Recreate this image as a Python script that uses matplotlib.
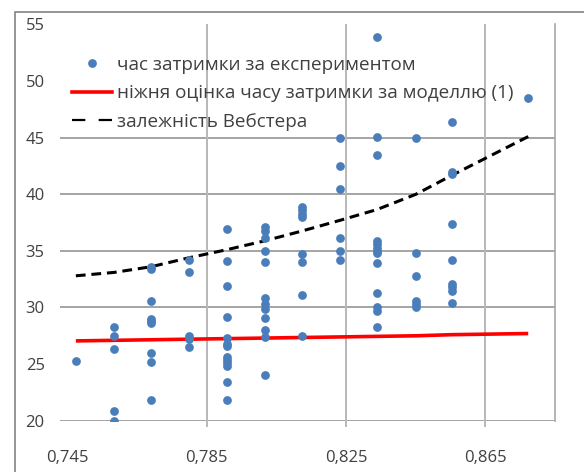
import matplotlib
matplotlib.use("Agg")
import matplotlib.pyplot as plt
from matplotlib.lines import Line2D
from matplotlib.patches import Rectangle

plt.rcParams['font.family'] = ['Open Sans', 'DejaVu Sans']

# ---- data ----
load_x = [0.7474, 0.7584, 0.7690, 0.7800, 0.7907, 0.8018,
          0.8123, 0.8233, 0.8339, 0.8451, 0.8556, 0.8774]

delay_c1 = [25.3]
delay_c2 = [28.3, 27.5, 26.3, 20.9, 20.0]
delay_c3 = [33.6, 33.4, 30.6, 29.0, 28.8, 28.6, 26.0, 25.2, 21.8]
delay_c4 = [34.2, 33.1, 27.5, 27.2, 26.5]
delay_c5 = [36.9, 34.1, 31.9, 29.2, 27.3, 26.8, 26.6, 25.6, 25.4, 25.1, 24.8, 23.4, 21.8]
delay_c6 = [37.1, 36.8, 36.1, 35.0, 34.0, 30.8, 30.3, 29.9, 29.1, 28.0, 27.4, 24.0]
delay_c7 = [38.9, 38.6, 38.3, 38.0, 34.7, 34.0, 31.1, 27.5]
delay_c8 = [45.0, 42.5, 40.5, 36.1, 35.0, 34.2]
delay_c9 = [53.9, 45.1, 43.5, 35.9, 35.6, 35.3, 35.0, 34.8, 33.9, 31.3, 30.0, 29.7, 28.3]
delay_c10 = [45.0, 34.8, 32.8, 30.6, 30.3, 30.0]
delay_c11 = [46.4, 42.0, 41.8, 37.4, 34.2, 32.1, 31.8, 31.5, 30.4]
delay_c12 = [48.5]

model_lower = [27.05, 27.1, 27.15, 27.2, 27.25, 27.3, 27.35, 27.4, 27.45, 27.5, 27.6, 27.7]
webster = [32.8, 33.1, 33.6, 34.4, 35.1, 35.9, 36.75, 37.7, 38.65, 40.0, 41.7, 45.1]

x_ticks = [0.745, 0.785, 0.825, 0.865]
x_tick_labels = ["0,745", "0,785", "0,825", "0,865"]
y_ticks = [20, 25, 30, 35, 40, 45, 50, 55]
y_grid = [20, 30, 35, 40, 45]

label_exp = "час затримки за експериментом"
label_model = "ніжня оцінка часу затримки за моделлю (1)"
label_webster = "залежність Вебстера"

columns = [delay_c1, delay_c2, delay_c3, delay_c4, delay_c5, delay_c6,
           delay_c7, delay_c8, delay_c9, delay_c10, delay_c11, delay_c12]
exp_x, exp_y = [], []
for xv, col in zip(load_x, columns):
    for v in col:
        exp_x.append(xv)
        exp_y.append(v)

# ---- figure ----
W, H = 584, 472
fig = plt.figure(figsize=(W / 100, H / 100), dpi=100)

# outer chart border (extends past the right/bottom image edges)
fig.patches.append(Rectangle((15 / W, -0.1), 1.2, 1 - 12 / H + 0.1,
                             transform=fig.transFigure, fill=False,
                             edgecolor='#8c8c8c', linewidth=1.3))

left, right, top, bottom = 60, 555, 24.5, 420.7
ax = fig.add_axes([left / W, 1 - bottom / H, (right - left) / W, (bottom - top) / H])
ax.set_xlim(0.74284, 0.88509)
ax.set_ylim(20, 55)

for s in ['left', 'top', 'bottom']:
    ax.spines[s].set_visible(False)
ax.spines['right'].set_color('#a8a8a8')
ax.spines['right'].set_linewidth(1.2)

for g in y_grid:
    ax.axhline(g, color='#8c8c8c', linewidth=1.1, zorder=1)
ax.vlines(x_ticks[1:], 19.4, 55, colors='#b8b8b8', linewidth=1.4, zorder=1, clip_on=False)

ax.plot(load_x, model_lower, color='#ff0000', linewidth=2.6, zorder=2,
        solid_capstyle='butt')
ax.plot(load_x, webster, color='black', linewidth=2.2, dashes=(3.2, 1.9), zorder=3)
ax.plot(exp_x, exp_y, linestyle='none', marker='o', markersize=6.3,
        color='#4a7ebb', markeredgewidth=0, zorder=4)

ax.set_xticks(x_ticks)
ax.set_xticklabels(x_tick_labels)
ax.set_yticks(y_ticks)
ax.tick_params(axis='both', length=0, labelsize=12, labelcolor='#404040')
ax.tick_params(axis='y', pad=11)
ax.tick_params(axis='x', pad=21)

handles = [
    Line2D([], [], linestyle='none', marker='o', markersize=6.3, color='#4a7ebb', markeredgewidth=0),
    Line2D([], [], color='#ff0000', linewidth=2.6),
    Line2D([], [], color='black', linewidth=1.6, dashes=(6, 6)),
]
leg = fig.legend(handles, [label_exp, label_model, label_webster],
                 loc='upper left', bbox_to_anchor=(72 / W, 1 - 56 / H),
                 frameon=False, fontsize=13.6, labelcolor='#404040',
                 handlelength=2.1, handletextpad=0.26, labelspacing=0.55,
                 borderpad=0, borderaxespad=0)

fig.savefig('out.png', dpi=100)
